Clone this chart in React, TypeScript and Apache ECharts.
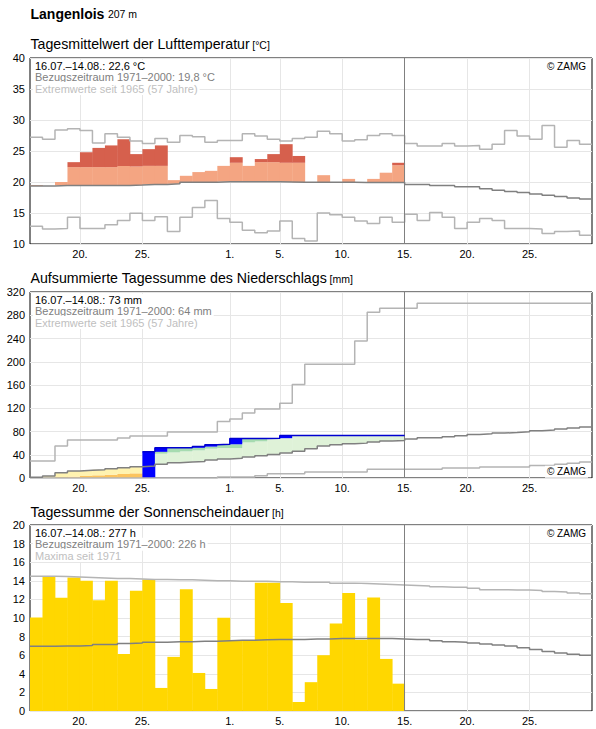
import React, { useEffect, useRef } from "react";
import * as echarts from "echarts";

const FONT = '"Liberation Sans", Arial, Helvetica, sans-serif';

// ---------- general ----------
const stationName = "Langenlois";
const stationAltitude = "207 m";
const xDayCount = 45; // 16.07. – 29.08.
const xTickDays = [4, 9, 16, 20, 25, 30, 35, 40];
const xTickLabels = ["20.", "25.", "1.", "5.", "10.", "15.", "20.", "25."];
const periodEndDay = 30; // 15.08.

// ---------- temperature (°C) ----------
const tempDaily = [
  19.5, 19.35, 20.0, 23.2, 24.8, 25.5, 25.9, 26.9, 24.5, 25.3,
  25.9, 20.3, 21.0, 21.6, 21.8, 22.6, 24.0, 22.6, 23.7, 24.5,
  26.1, 24.2, 19.95, 21.1, 19.95, 20.5, 19.9, 20.5, 21.5, 23.1,
];
const tempUpperNormal = [
  22.3, 22.3, 22.3, 22.4, 22.4, 22.4, 22.4, 22.6, 22.5, 22.6,
  22.6, 22.7, 22.7, 22.8, 22.8, 22.9, 23.1, 23.1, 23.2, 23.2,
  23.1, 23.1, 23.1, 23.1, 23.0, 23.0, 22.9, 22.9, 22.8, 22.7,
];
const tempClimMean = [
  19.35, 19.35, 19.45, 19.45, 19.45, 19.45, 19.45, 19.45, 19.5, 19.6,
  19.6, 19.7, 19.95, 19.95, 19.95, 20.05, 20.05, 20.05, 20.05, 20.05,
  20.0, 19.95, 19.95, 19.95, 19.95, 19.95, 19.9, 19.9, 19.9, 19.9,
  19.6, 19.6, 19.45, 19.45, 19.25, 19.25, 18.9, 18.65, 18.45, 18.3,
  18.05, 17.85, 17.65, 17.4, 17.25,
];
const tempExtremeMax = [
  27.2, 26.9, 28.4, 28.6, 28.3, 26.3, 27.8, 27.2, 26.6, 26.2,
  27.0, 26.4, 27.5, 27.3, 26.4, 26.7, 26.7, 27.8, 27.4, 26.9,
  26.6, 27.0, 27.2, 28.2, 27.8, 26.6, 26.8, 27.5, 27.8, 27.5,
  26.2, 25.8, 25.8, 26.2, 25.8, 25.9, 25.3, 26.1, 28.3, 27.4,
  26.9, 29.1, 25.6, 26.7, 26.1,
];
const tempExtremeMin = [
  12.85, 12.4, 12.5, 14.3, 12.5, 12.5, 13.1, 13.8, 14.95, 13.8,
  14.4, 12.0, 14.3, 15.9, 17.0, 14.1, 13.5, 12.2, 11.8, 12.1,
  13.7, 10.9, 10.5, 15.0, 14.7, 14.3, 13.7, 13.3, 14.3, 13.5,
  14.8, 13.8, 15.1, 14.3, 12.5, 13.5, 14.1, 13.8, 12.5, 12.5,
  12.4, 11.7, 12.0, 12.1, 11.4,
];

// ---------- precipitation (mm, cumulative) ----------
const precipCum = [
  0, 0, 0, 0, 0, 0, 0, 0, 0, 45,
  52, 52, 52, 54, 57, 58, 68, 68, 68, 68.5,
  73, 73, 73, 73, 73, 73, 73, 73, 73, 73,
];
const precipUpperNormal = [
  null, null, null, null, null, null, null, null, null, 44,
  41.8, 44, 45.8, 47.5, 50.4, 51.5, 51.5, 61.2, 63, null,
  null, null, null, null, null, null, null, null, null, null,
];
const precipLowerNormal = [
  0, 0.5, 1.5, 2.3, 3.4, 4.6, 5.7, 7.0, 8.0, null,
  null, null, null, null, null, null, null, null, null, null,
  null, null, null, null, null, null, null, null, null, null,
];
const precipClimMean = [
  1.1, 3.4, 9.2, 12, 13.2, 14.3, 16, 17.7, 19.5, 20.6,
  23.5, 26.3, 27.5, 28.6, 31, 32.6, 33.8, 36, 38.4, 40.6,
  42.9, 46, 50.5, 55, 57.2, 59, 60, 61.8, 63.5, 64.5,
  67, 69.3, 69.3, 71, 72.5, 75, 76, 77.3, 78.4, 79.6,
  81.3, 82.4, 84.1, 85.9, 87.6,
];
const precipExtremeMax = [
  29.2, 29.2, 55, 65.3, 65.3, 65.3, 65.3, 68.7, 72.1, 72.1,
  72.1, 79, 79, 79, 79, 97.3, 101.5, 112, 118.5, 118.5,
  128.8, 161, 195.8, 195.8, 195.8, 195.8, 235.8, 285, 292, 292,
  292, 300.5, 300.5, 300.5, 300.5, 300.5, 300.5, 300.5, 300.5, 300.5,
  300.5, 300.5, 300.5, 300.5, 300.5,
];
const precipExtremeMin = [
  0, 0, 0, 0, 0, 0, 0, 0, 0, 0,
  0, 0, 0, 0, 0, 1.7, 1.7, 1.7, 4, 7.4,
  7.4, 7.4, 10.3, 10.3, 10.3, 10.3, 10.3, 14.9, 14.9, 14.9,
  14.9, 14.9, 14.9, 17.2, 17.2, 17.2, 18.9, 18.9, 18.9, 18.9,
  21.7, 21.7, 23.5, 25.5, 27.5,
];

// ---------- sunshine (h) ----------
const sunDaily = [
  10.05, 14.43, 12.17, 14.36, 14.0, 11.9, 14.0, 6.14, 12.93, 14.15,
  2.48, 5.82, 13.1, 4.09, 2.37, 10.02, 7.6, 7.6, 13.8, 13.8,
  11.6, 0.97, 3.1, 6.0, 9.4, 12.7, 7.65, 12.2, 5.6, 2.94,
];
const sunClimMean = [
  6.95, 6.95, 7.0, 7.0, 7.05, 7.15, 7.15, 7.25, 7.3, 7.4,
  7.4, 7.45, 7.45, 7.5, 7.5, 7.55, 7.6, 7.6, 7.65, 7.7,
  7.7, 7.7, 7.75, 7.75, 7.8, 7.8, 7.8, 7.8, 7.8, 7.75,
  7.7, 7.68, 7.55, 7.45, 7.4, 7.3, 7.2, 7.1, 7.0, 6.8,
  6.6, 6.4, 6.25, 6.1, 6.0,
];
const sunMaxima = [
  14.5, 14.5, 14.45, 14.4, 14.35, 14.3, 14.25, 14.25, 14.2, 14.15,
  14.15, 14.1, 14.1, 14.05, 14.0, 14.0, 13.95, 13.95, 13.95, 13.9,
  13.9, 13.85, 13.85, 13.85, 13.75, 13.75, 13.7, 13.65, 13.6, 13.55,
  13.5, 13.45, 13.35, 13.3, 13.3, 13.2, 13.05, 13.05, 13.0, 13.0,
  12.95, 12.85, 12.8, 12.7, 12.6,
];

// ---------- texts ----------
const panelTitles = [
  "Tagesmittelwert der Lufttemperatur",
  "Aufsummierte Tagessumme des Niederschlags",
  "Tagessumme der Sonnenscheindauer",
];
const panelUnits = ["[°C]", "[mm]", "[h]"];
const panelInfo = [
  ["16.07.–14.08.: 22,6 °C", "Bezugszeitraum 1971–2000: 19,8 °C", "Extremwerte seit 1965 (57 Jahre)"],
  ["16.07.–14.08.: 73 mm", "Bezugszeitraum 1971–2000: 64 mm", "Extremwerte seit 1965 (57 Jahre)"],
  ["16.07.–14.08.: 277 h", "Bezugszeitraum 1971–2000: 226 h", "Maxima seit 1971"],
];
const copyrightText = "© ZAMG";

// ---------- styling ----------
const GRID_LEFT = 30;
const GRID_WIDTH = 562;
const GRID_HEIGHT = 186;
const GRID_TOPS = [58, 292, 525];
const TITLE_SIZE = 14.2;
const UNIT_SIZE = 10.5;

const C_SALMON = "#f4a582";
const C_RED = "#d6604d";
const C_BLUE = "#0000ff";
const C_BLUE_LINE = "#0000d0";
const C_GREEN_L = "#dff2d8";
const C_GREEN_M = "#a6dbb0";
const C_YELLOW_L = "#fff3b0";
const C_ORANGE = "#fcc45e";
const C_SUN = "#ffd700";
const C_MEAN = "#808080";
const C_EXT = "#b4b4b4";
const C_GRID = "#e6e6e6";

function measure(text: string, font: string, fallbackPerChar: number) {
  try {
    const ctx = document.createElement("canvas").getContext("2d");
    if (ctx) {
      ctx.font = font;
      return ctx.measureText(text).width;
    }
  } catch (e) {
    /* ignore */
  }
  return text.length * fallbackPerChar;
}

function stepData(arr: number[]) {
  const d = arr.map((v, i) => [i, v]);
  d.push([arr.length, arr[arr.length - 1]]);
  return d;
}

function rectEl(api: any, x0: number, x1: number, y0: number, y1: number, fill: string) {
  const lo = Math.min(y0, y1);
  const hi = Math.max(y0, y1);
  const p0 = api.coord([x0, hi]);
  const p1 = api.coord([x1, lo]);
  return {
    type: "rect",
    shape: { x: p0[0], y: p0[1], width: p1[0] - p0[0] + 0.4, height: p1[1] - p0[1] },
    style: { fill },
  };
}

function stepLine(idx: number, arr: number[], color: string, width: number, extra: any = {}) {
  return {
    type: "line",
    xAxisIndex: idx,
    yAxisIndex: idx,
    data: stepData(arr),
    step: "end",
    symbol: "none",
    showSymbol: false,
    silent: true,
    z: 4,
    lineStyle: { color, width },
    ...extra,
  };
}

function todayLine() {
  return {
    silent: true,
    symbol: ["none", "none"],
    label: { show: false },
    lineStyle: { color: C_MEAN, width: 1, type: "solid" },
    data: [{ xAxis: periodEndDay }],
  };
}

function txt(x: number, y: number, text: string, size: number, color: string, opts: any = {}) {
  const style: any = {
    text,
    font: `${opts.bold ? "bold " : ""}${size}px ${FONT}`,
    fill: color,
    textAlign: opts.align || "left",
    textVerticalAlign: "middle",
    verticalAlign: "middle",
  };
  if (opts.bg) {
    style.backgroundColor = "#ffffff";
    style.padding = [1, 2, 1, 2];
  }
  return { type: "text", x, y, z: 100, silent: true, style };
}

export default function App() {
  const ref = useRef<HTMLDivElement>(null);

  useEffect(() => {
    if (!ref.current) return;
    const chart = echarts.init(ref.current, null, { renderer: "svg" });

    const grids = GRID_TOPS.map((top) => ({
      left: GRID_LEFT,
      top,
      width: GRID_WIDTH,
      height: GRID_HEIGHT,
      show: true,
      borderColor: "#000",
      borderWidth: 1,
      backgroundColor: "transparent",
    }));

    const xAxes = GRID_TOPS.map((_, k) => ({
      type: "value",
      gridIndex: k,
      min: 0,
      max: xDayCount,
      axisLine: { show: false },
      axisTick: { show: false, customValues: xTickDays },
      axisLabel: {
        customValues: xTickDays,
        formatter: (v: number) => {
          const j = xTickDays.indexOf(Math.round(v));
          return j >= 0 ? xTickLabels[j] : "";
        },
        color: "#000",
        fontSize: 11,
        fontFamily: FONT,
        margin: 4,
      },
      splitLine: { show: true, lineStyle: { color: C_GRID, width: 1 } },
    }));

    const yRanges = [
      { min: 10, max: 40, interval: 5 },
      { min: 0, max: 320, interval: 40 },
      { min: 0, max: 20, interval: 2 },
    ];
    const yAxes = yRanges.map((r, k) => ({
      type: "value",
      gridIndex: k,
      ...r,
      axisLine: { show: false },
      axisTick: { show: false },
      axisLabel: { color: "#000", fontSize: 11, fontFamily: FONT, margin: 5 },
      splitLine: { show: true, lineStyle: { color: C_GRID, width: 1 } },
    }));

    const series: any[] = [];

    // Temperature fills
    series.push({
      type: "custom",
      xAxisIndex: 0,
      yAxisIndex: 0,
      z: 2,
      silent: true,
      data: tempDaily.map((v, i) => [i, v]),
      encode: { x: 0, y: 1 },
      renderItem: (params: any, api: any) => {
        const i = params.dataIndex;
        const x = api.value(0);
        const v = api.value(1);
        const m = tempClimMean[i];
        const u = tempUpperNormal[i];
        const children: any[] = [];
        if (v > m) children.push(rectEl(api, x, x + 1, m, Math.min(v, u), C_SALMON));
        if (v > u) children.push(rectEl(api, x, x + 1, u, v, C_RED));
        return { type: "group", children };
      },
    });
    series.push(stepLine(0, tempExtremeMax, C_EXT, 1.5));
    series.push(stepLine(0, tempExtremeMin, C_EXT, 1.5));
    series.push(stepLine(0, tempClimMean, C_MEAN, 1.5, { markLine: todayLine() }));

    // Precipitation fills
    series.push({
      type: "custom",
      xAxisIndex: 1,
      yAxisIndex: 1,
      z: 2,
      silent: true,
      data: precipCum.map((v, i) => [i, v]),
      encode: { x: 0, y: 1 },
      renderItem: (params: any, api: any) => {
        const i = params.dataIndex;
        const x = api.value(0);
        const c = api.value(1);
        const prev = i > 0 ? precipCum[i - 1] : 0;
        const m = precipClimMean[i];
        const up = precipUpperNormal[i];
        const lo = precipLowerNormal[i];
        const children: any[] = [];
        if (c >= m) {
          if (prev > m) {
            const split = up != null ? Math.max(Math.min(prev, up), m) : prev;
            children.push(rectEl(api, x, x + 1, m, split, C_GREEN_L));
            if (split < prev) children.push(rectEl(api, x, x + 1, split, prev, C_GREEN_M));
          }
        } else {
          const l = lo != null ? Math.max(lo, c) : c;
          if (l > c) children.push(rectEl(api, x, x + 1, c, l, C_ORANGE));
          children.push(rectEl(api, x, x + 1, l, m, C_YELLOW_L));
        }
        if (c > prev) children.push(rectEl(api, x, x + 1, prev, c, C_BLUE));
        return { type: "group", children };
      },
    });
    {
      const firstWet = precipCum.findIndex((v) => v > 0);
      const d = precipCum.map((v, i) => [i, v]).filter((p) => p[0] >= firstWet);
      d.push([precipCum.length, precipCum[precipCum.length - 1]]);
      series.push({
        type: "line",
        xAxisIndex: 1,
        yAxisIndex: 1,
        data: d,
        step: "end",
        symbol: "none",
        silent: true,
        z: 5,
        lineStyle: { color: C_BLUE_LINE, width: 1.5 },
      });
    }
    series.push(stepLine(1, precipExtremeMax, C_EXT, 1.5));
    series.push(stepLine(1, precipExtremeMin, C_EXT, 1.5));
    series.push(stepLine(1, precipClimMean, C_MEAN, 1.5, { markLine: todayLine() }));

    // Sunshine bars
    series.push({
      type: "custom",
      xAxisIndex: 2,
      yAxisIndex: 2,
      z: 2,
      silent: true,
      data: sunDaily.map((v, i) => [i, v]),
      encode: { x: 0, y: 1 },
      renderItem: (params: any, api: any) => {
        const x = api.value(0);
        const v = api.value(1);
        return rectEl(api, x, x + 1, 0, v, C_SUN);
      },
    });
    series.push(stepLine(2, sunMaxima, C_EXT, 1.5));
    series.push(stepLine(2, sunClimMean, C_MEAN, 1.5, { markLine: todayLine() }));

    // Texts
    const graphic: any[] = [];
    const nameFont = `bold 14px ${FONT}`;
    const nameW = measure(stationName, nameFont, 7.6);
    graphic.push(txt(30.5, 13.6, stationName, 14, "#000", { bold: true }));
    graphic.push(txt(30.5 + nameW + 3.5, 14.4, stationAltitude, UNIT_SIZE, "#000"));
    const titleCenters = [43.8, 278.3, 512.2];
    panelTitles.forEach((t, k) => {
      const tw = measure(t, `${TITLE_SIZE}px ${FONT}`, 6.6);
      graphic.push(txt(30.5, titleCenters[k], t, TITLE_SIZE, "#000"));
      graphic.push(txt(30.5 + tw + 2.5, titleCenters[k] + 0.7, panelUnits[k], UNIT_SIZE, "#000"));
      const top = GRID_TOPS[k];
      const colors = ["#000000", "#808080", "#c0c0c0"];
      const offs = [8.2, 19.3, 30.6];
      panelInfo[k].forEach((line, j) => {
        graphic.push(txt(33, top + offs[j], line, 11, colors[j], { bg: true }));
      });
      if (k === 1) {
        graphic.push(txt(588, top + GRID_HEIGHT - 6.3, copyrightText, 10, "#000", { bg: true, align: "right" }));
      } else {
        graphic.push(txt(588, top + 8, copyrightText, 10, "#000", { bg: true, align: "right" }));
      }
    });

    chart.setOption({
      animation: false,
      backgroundColor: "#ffffff",
      textStyle: { fontFamily: FONT },
      grid: grids,
      xAxis: xAxes,
      yAxis: yAxes,
      series,
      graphic,
    });

    return () => chart.dispose();
  }, []);

  return (
    <div
      ref={ref}
      style={{ position: "absolute", left: 0, top: 0, width: 596, height: 729 }}
    />
  );
}
